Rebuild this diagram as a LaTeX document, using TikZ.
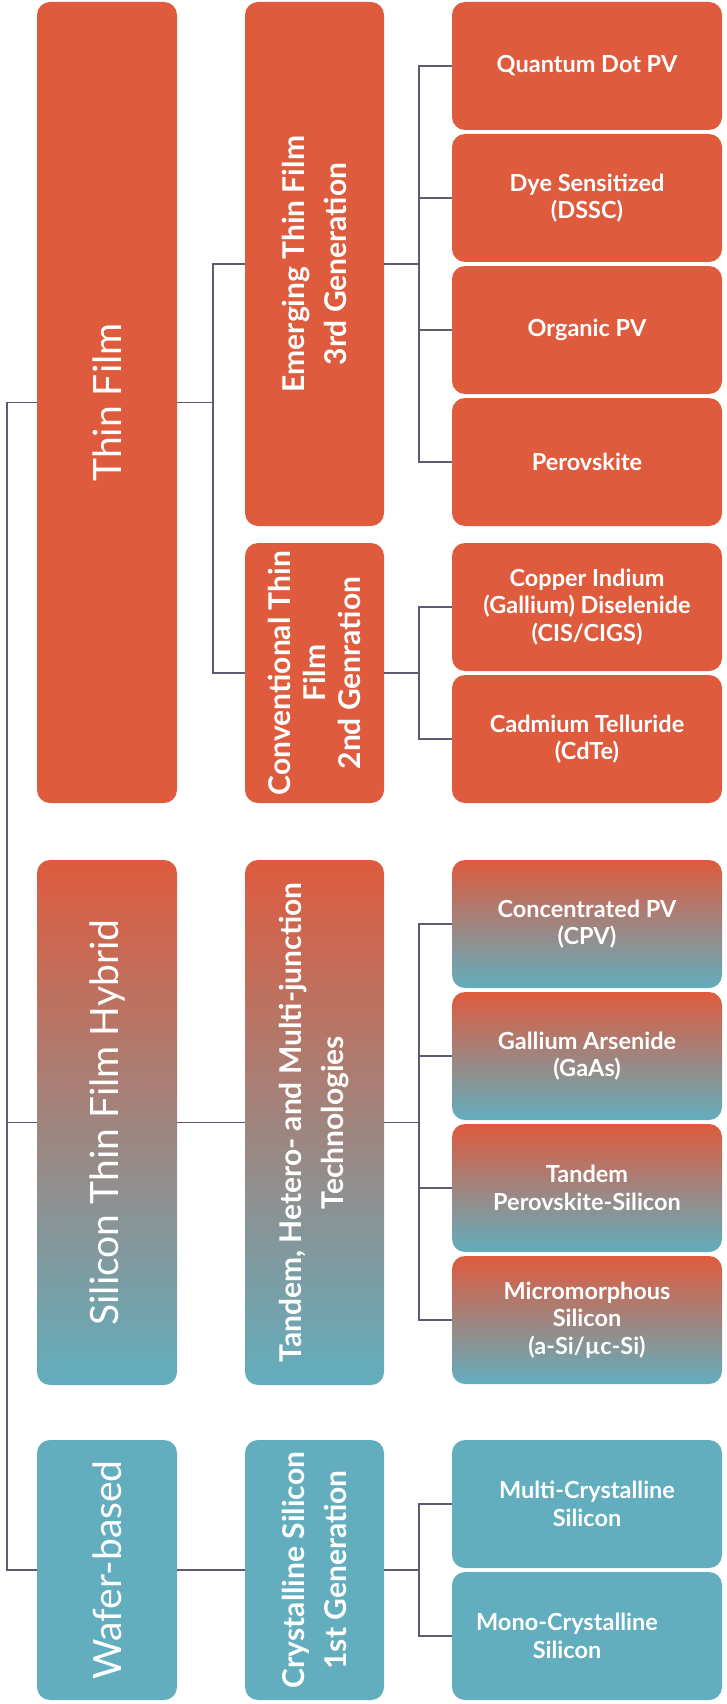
\documentclass[tikz,border=0pt]{standalone}
\usepackage{fontspec}
\setmainfont{Lato}
\definecolor{orng}{RGB}{222,91,62}
\definecolor{tealc}{RGB}{98,174,190}
\definecolor{connc}{RGB}{95,90,115}
\begin{document}
\begin{tikzpicture}[x=1pt,y=-1pt,
  box/.style={rounded corners=13pt, inner sep=0pt, outer sep=0pt, draw=none},
  obox/.style={box, fill=orng},
  tbox/.style={box, fill=tealc},
  gbox/.style={box, top color=orng, bottom color=tealc},
  c1/.style={minimum width=140pt},
  c2/.style={minimum width=139pt},
  c3/.style={minimum width=270pt},
  big/.style={text=white, font=\fontsize{39}{46}\selectfont, rotate=90, inner sep=0pt},
  mid/.style={text=white, font=\bfseries\fontsize{30}{42}\selectfont, rotate=90, align=center, inner sep=0pt},
  sml/.style={text=white, font=\bfseries\fontsize{23.5}{27.5}\selectfont, align=center, inner sep=0pt},
  wire/.style={draw=connc, line width=1.2pt}]
\fill[white] (0,0) rectangle (726,1704);
\useasboundingbox (0,0) rectangle (726,1704);

% column 1
\node[obox, c1, minimum height=801pt] (tf) at (107,402.5) {};
\node[gbox, c1, minimum height=525pt] (sh) at (107,1122.5) {};
\node[tbox, c1, minimum height=260pt] (wb) at (107,1570) {};
% column 2
\node[obox, c2, minimum height=524pt] (em) at (314.5,264) {};
\node[obox, c2, minimum height=260pt] (cv) at (314.5,673) {};
\node[gbox, c2, minimum height=525pt] (tm) at (314.5,1122.5) {};
\node[tbox, c2, minimum height=260pt] (cs) at (314.5,1570) {};
% column 3
\node[obox, c3, minimum height=128pt] (qd) at (587,66) {};
\node[obox, c3, minimum height=128pt] (ds) at (587,198) {};
\node[obox, c3, minimum height=128pt] (op) at (587,330) {};
\node[obox, c3, minimum height=128pt] (pv) at (587,462) {};
\node[obox, c3, minimum height=128pt] (ci) at (587,607) {};
\node[obox, c3, minimum height=128pt] (ct) at (587,739) {};
\node[gbox, c3, minimum height=128pt] (cp) at (587,924) {};
\node[gbox, c3, minimum height=128pt] (ga) at (587,1056) {};
\node[gbox, c3, minimum height=128pt] (tp) at (587,1188) {};
\node[gbox, c3, minimum height=128pt] (mm) at (587,1320) {};
\node[tbox, c3, minimum height=128pt] (mc) at (587,1504) {};
\node[tbox, c3, minimum height=128pt] (mo) at (587,1636) {};

% labels
\node[big] (tfl) at (tf.center) {Thin Film};
\node[big] (shl) at (sh.center) {Silicon Thin Film Hybrid};
\node[big] (wbl) at (wb.center) {Wafer-based};
\node[mid] (eml) at (em.center) {Emerging Thin Film\\3rd Generation};
\node[mid, font=\bfseries\fontsize{30}{35}\selectfont] (cvl) at (cv.center) {Conventional Thin\\Film\\2nd Genration};
\node[mid] (tml) at (tm.center) {Tandem, Hetero- and Multi-junction\\Technologies};
\node[mid] (csl) at (cs.center) {Crystalline Silicon\\1st Generation};
\node[sml] (qdl) at (qd.center) {Quantum Dot PV};
\node[sml] (dsl) at (ds.center) {Dye Sensitized\\(DSSC)};
\node[sml] (opl) at (op.center) {Organic PV};
\node[sml] (pvl) at (pv.center) {Perovskite};
\node[sml] (cil) at (ci.center) {Copper Indium\\(Gallium) Diselenide\\(CIS/CIGS)};
\node[sml] (ctl) at (ct.center) {Cadmium Telluride\\(CdTe)};
\node[sml] (cpl) at (cp.center) {Concentrated PV\\(CPV)};
\node[sml] (gal) at (ga.center) {Gallium Arsenide\\(GaAs)};
\node[sml] (tpl) at (tp.center) {Tandem\\Perovskite-Silicon};
\node[sml] (mml) at (mm.center) {Micromorphous\\Silicon\\(a-Si/µc-Si)};
\node[sml] (mcl) at (mc.center) {Multi-Crystalline\\Silicon};
\node[sml, xshift=-20pt] (mol) at (mo.center) {Mono-Crystalline\\Silicon};

% connectors: spine
\draw[wire] (tf.west) -- ++(-30,0) |- (wb.west);
\draw[wire] (sh.west) -- ++(-30,0);
% column 1 to column 2
\draw[wire] (tf.east) -- ++(36,0);
\draw[wire] (em.west) -- ++(-32,0) |- (cv.west);
\draw[wire] (sh.east) -- (tm.west);
\draw[wire] (wb.east) -- (cs.west);
% column 2 to column 3
\draw[wire] (em.east) -- ++(35,0);
\draw[wire] (qd.west) -- ++(-33,0) |- (pv.west);
\draw[wire] (ds.west) -- ++(-33,0);
\draw[wire] (op.west) -- ++(-33,0);
\draw[wire] (cv.east) -- ++(35,0);
\draw[wire] (ci.west) -- ++(-33,0) |- (ct.west);
\draw[wire] (tm.east) -- ++(35,0);
\draw[wire] (cp.west) -- ++(-33,0) |- (mm.west);
\draw[wire] (ga.west) -- ++(-33,0);
\draw[wire] (tp.west) -- ++(-33,0);
\draw[wire] (cs.east) -- ++(35,0);
\draw[wire] (mc.west) -- ++(-33,0) |- (mo.west);
\end{tikzpicture}
\end{document}
